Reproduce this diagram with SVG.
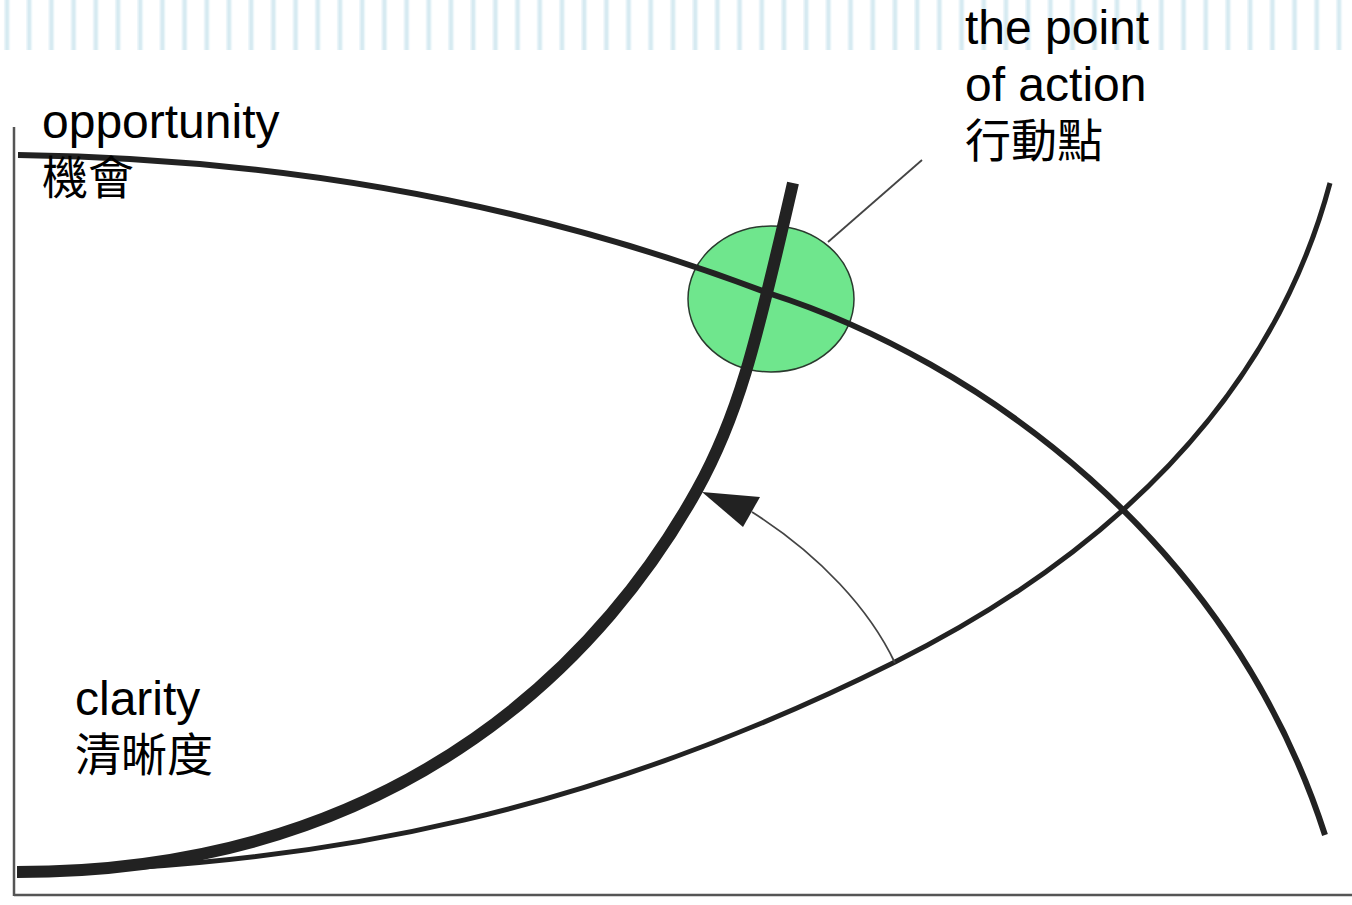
<svg xmlns="http://www.w3.org/2000/svg" width="1352" height="905" viewBox="0 0 1352 905">
  <defs>
    <style>
      .lbl { font-family: "Liberation Sans", Arial, "Noto Sans CJK TC", sans-serif; font-size: 48px; fill: #000; }
      .cjk { font-family: "Noto Sans CJK TC", "Noto Sans CJK SC", sans-serif; font-size: 46px; fill: #000; }
      .axis { stroke: #555; stroke-width: 2.5; fill: none; }
      .curve { fill: none; stroke: #222; stroke-linecap: butt; }
      .thin { stroke: #444; stroke-width: 1.8; fill: none; }
    </style>
    <pattern id="stripes" x="0" y="0" width="22.2" height="50" patternUnits="userSpaceOnUse">
      <rect x="4" y="0" width="6" height="50" fill="#eaf5f9"/>
      <rect x="5.5" y="0" width="3" height="50" fill="#d6eaf1"/>
    </pattern>
  </defs>
  <rect width="1352" height="905" fill="#fff"/>
  <rect x="0" y="0" width="1352" height="50" fill="url(#stripes)"/>

  <g id="axes">
    <line class="axis" x1="14" y1="127" x2="14" y2="896"/>
    <line class="axis" x1="14" y1="895" x2="1352" y2="895"/>
  </g>

  <g id="action-point">
    <ellipse cx="771" cy="299" rx="83" ry="73" fill="#6fe68d" stroke="#2a3a2e" stroke-width="1.5"/>
  </g>

  <g id="clarity-curve">
    <path class="curve" stroke-width="5" stroke="#3a3a3a" d="M18,872 C330,868 605,807 895,662 C1005,607 1255,465 1330,183"/>
  </g>

  <g id="opportunity-curve">
    <path class="curve" stroke-width="6" d="M18,155 C268,158 518,198 768,293 C978,360 1230,540 1325,835"/>
  </g>

  <g id="shifted-clarity-curve">
    <path class="curve" stroke-width="12" d="M17,872 C415,872 612,643 697,490 C737,418 754,353 793,183"/>
  </g>

  <g id="connectors">
    <line class="thin" x1="828" y1="242" x2="922" y2="160"/>
    <path class="thin" stroke="#333" stroke-width="2" d="M895,663 C870,610 820,555 752,512"/>
    <polygon points="702,492 760,497 743,527" fill="#222"/>
  </g>

  <g id="label-opportunity">
    <text class="lbl" x="42" y="138">opportunity</text>
    <text class="cjk" x="42" y="194">機會</text>
  </g>
  <g id="label-point">
    <text class="lbl" x="965" y="44">the point</text>
    <text class="lbl" x="965" y="101">of action</text>
    <text class="cjk" x="965" y="157">行動點</text>
  </g>
  <g id="label-clarity">
    <text class="lbl" x="75" y="715">clarity</text>
    <text class="cjk" x="75" y="771">清晰度</text>
  </g>
</svg>
